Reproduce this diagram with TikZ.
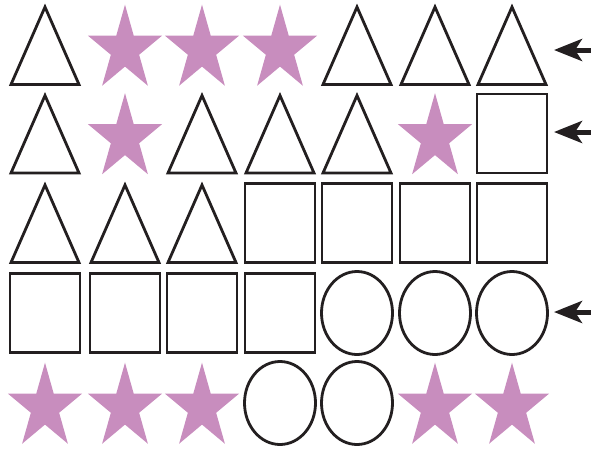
\documentclass[tikz,border=0pt]{standalone}
\usetikzlibrary{arrows.meta}

\definecolor{starpink}{RGB}{200,141,190}
\definecolor{inkline}{RGB}{35,31,32}

% one macro per shape, called with the cell centre
\newcommand{\shapeT}[2]{\draw[inkline, line width=2.8pt] (#1-34,#2+39.5) -- (#1+34,#2+39.5) -- (#1,#2-38) -- cycle;}
\newcommand{\shapeQ}[2]{\draw[inkline, line width=2.8pt] (#1-35,#2-39.5) rectangle (#1+35,#2+39.5);}
\newcommand{\shapeC}[2]{\draw[inkline, line width=2.8pt] (#1,#2) ellipse [x radius=35.5, y radius=41.5];}
\newcommand{\shapeS}[2]{\fill[starpink, shift={(#1,#2+4.5)}, xscale=0.87] (-90:44.8)
    \foreach \k in {1,...,9} { -- ({-90+36*\k}:{ifthenelse(isodd(\k),17.1,44.8)}) } -- cycle;}

\begin{document}
\begin{tikzpicture}[x=1pt, y=-1pt]
  \useasboundingbox (0,0) rectangle (591,450);

  % 1. The grid of shapes, row by row
  \foreach \cy/\shapes in {45/{T,S,S,S,T,T,T}, 133.5/{T,S,T,T,T,S,Q},
                           223/{T,T,T,Q,Q,Q,Q}, 313/{Q,Q,Q,Q,C,C,C},
                           403/{S,S,S,C,C,S,S}} {
    \foreach \s [count=\c] in \shapes {
      \pgfmathsetmacro{\cx}{{45,125,202,280,357,435,512}[\c-1]}
      \csname shape\s\endcsname{\cx}{\cy}
    }
  }

  % 2. Arrows pointing at rows one, two and four
  \coordinate (tipA) at (554,50);   \coordinate (tailA) at (594,50);
  \coordinate (tipB) at (554,132);  \coordinate (tailB) at (594,132);
  \coordinate (tipD) at (554,312);  \coordinate (tailD) at (594,312);
  \foreach \r in {A,B,D}
    \draw[-{Stealth[length=28pt 0 0, width=22pt 0 0, inset=7pt 0]}, inkline, line width=5pt] (tail\r) -- (tip\r);

\end{tikzpicture}
\end{document}
